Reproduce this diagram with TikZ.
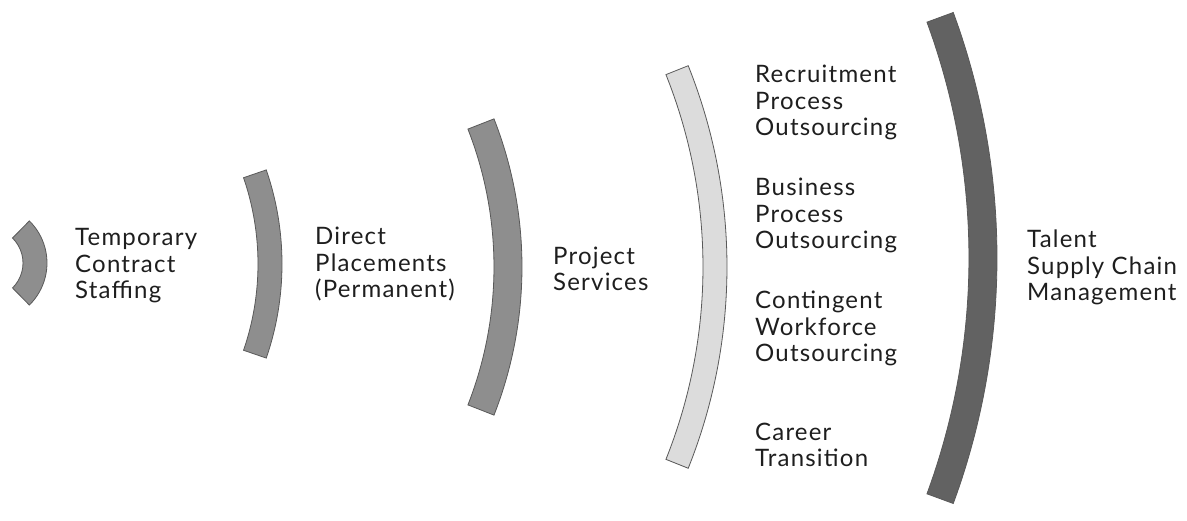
\documentclass[tikz,border=0pt]{standalone}
\usepackage{fontspec}
\setmainfont{Lato}[LetterSpace=5]
\usepackage{tikz}

\definecolor{bandmid}{HTML}{8E8E8E}
\definecolor{bandlight}{HTML}{DCDCDC}
\definecolor{banddark}{HTML}{626262}
\definecolor{labeltext}{HTML}{1E1E1E}

% annular band: centre x, centre y, mid radius, width, half angle
\newcommand{\drawband}[6]{%
  \filldraw[band,fill=#6] ([shift={(#1,#2)}]#5:#3+#4/2)
    arc[start angle=#5,end angle=-#5,radius=#3+#4/2]
    -- ([shift={(#1,#2)}]-#5:#3-#4/2)
    arc[start angle=-#5,end angle=#5,radius=#3-#4/2] -- cycle;}

\begin{document}
\begin{tikzpicture}[x=1pt,y=1pt,
        band/.style={draw=black!65,line width=0.8pt},
        every node/.style={anchor=base west,align=left,inner sep=0pt,text=labeltext,
            font=\fontsize{24}{26.5}\selectfont}]
    \useasboundingbox (0,0) rectangle (1187,521);

    \drawband{-12}{258}{47}{24}{45.5}{bandmid}
    \drawband{-7}{257}{277}{24}{19}{bandmid}
    \drawband{116}{254}{392}{28}{21.4}{bandmid}
    \drawband{185}{254}{530}{24}{21.8}{bandlight}
    \drawband{286}{263}{697}{28}{20.2}{banddark}

    % base anchor sits on the last line
    \node (temp) at (75,222) {Temporary\\Contract\\Staffing};
    \node (direct) at (315,223) {Direct\\Placements\\(Permanent)};
    \node (project) at (553,230) {Project\\Services};
    \node (rpo) at (755,385) {Recruitment\\Process\\Outsourcing};
    \node (bpo) at (755,272) {Business\\Process\\Outsourcing};
    \node (cwo) at (755,159) {Contingent\\Workforce\\Outsourcing};
    \node (career) at (755,54) {Career\\Transition};
    \node (tscm) at (1027,220) {Talent\\Supply Chain\\Management};
\end{tikzpicture}
\end{document}
